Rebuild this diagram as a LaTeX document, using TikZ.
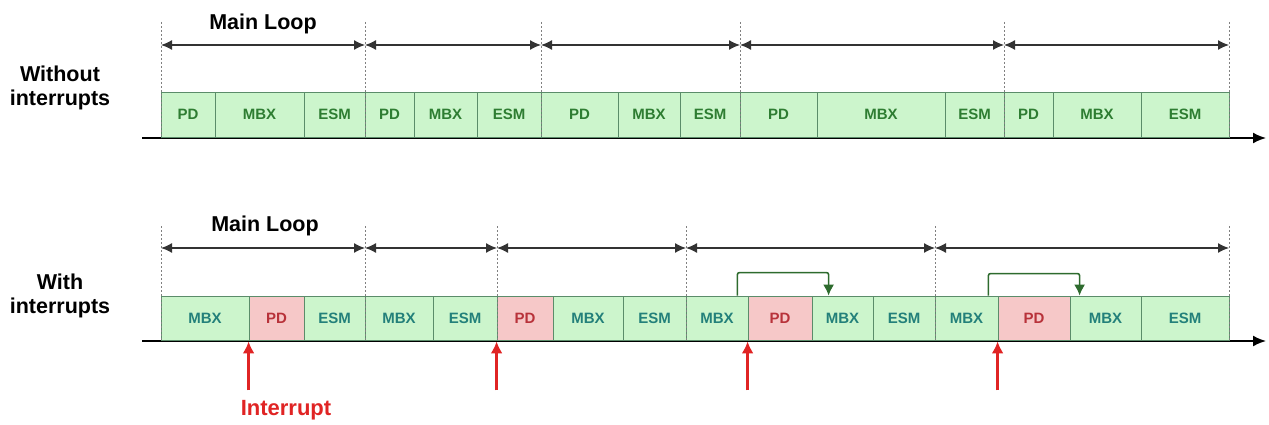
\documentclass[tikz,border=0pt]{standalone}
\usepackage{fontspec}
\setmainfont{Liberation Sans}
\usetikzlibrary{arrows.meta}
\definecolor{boxg}{HTML}{CCF5CC}
\definecolor{boxr}{HTML}{F6C8C8}
\definecolor{edge}{HTML}{5B8C6A}
\definecolor{txtg}{HTML}{2E7D32}
\definecolor{txtt}{HTML}{23807A}
\definecolor{txtr}{HTML}{B8323A}
\definecolor{irqred}{HTML}{E02424}
\definecolor{jmpgreen}{HTML}{2E6B2E}
\tikzset{
  slot/.style={draw=edge, line width=0.8pt, inner sep=0pt, font=\fontsize{15}{16}\selectfont\bfseries},
  divider/.style={draw=gray, line width=0.7pt, dash pattern=on 2pt off 2pt},
  span/.style={draw=black!80, line width=1.3pt, {Latex[length=11pt,width=10pt]}-{Latex[length=11pt,width=10pt]}},
  timeaxis/.style={draw=black, line width=1.8pt, -{Latex[length=13pt,width=11pt]}},
  irq/.style={draw=irqred, line width=3pt, -{Latex[length=12pt,width=12pt]}},
  jump/.style={draw=jmpgreen, line width=1.6pt, rounded corners=2pt, -{Latex[length=11pt,width=11pt]}},
  title/.style={font=\fontsize{21.5}{24}\selectfont\bfseries, align=center}
}

\begin{document}
\begin{tikzpicture}[line cap=butt,line join=miter,x=1pt,y=-1pt]
  \useasboundingbox (0,0) rectangle (1269,425);

  % time axes
  \coordinate (ta0) at (142,138);
  \coordinate (ta1) at (1266,138);
  \coordinate (ba0) at (142,341);
  \coordinate (ba1) at (1266,341);
  \draw[timeaxis] (ta0) -- (ta1);
  \draw[timeaxis] (ba0) -- (ba1);

  % row without interrupts
  \node[title] (woirq) at (60,88) {Without\\interrupts};
  \foreach \a/\b/\t [count=\i] in {161/215/PD, 215/304/MBX, 304/365/ESM,
      365/414/PD, 414/477/MBX, 477/541/ESM, 541/618/PD, 618/680/MBX, 680/740/ESM,
      740/817/PD, 817/945/MBX, 945/1004/ESM, 1004/1053/PD, 1053/1141/MBX, 1141/1229/ESM}
    \node[slot, fill=boxg, text=txtg, minimum width={(\b-\a)*1pt}, minimum height=45pt]
      (p\i) at ({(\a+\b)/2},114.5) {\t};
  \foreach \x [count=\i] in {161,365,541,740,1004,1229} {
    \coordinate (tu\i) at (\x,22);
    \coordinate (tl\i) at (\x,138);
    \coordinate (ts\i) at (\x,45);
    \draw[divider] (tu\i) -- (tl\i);
  }
  \foreach \i [evaluate=\i as \j using int(\i+1)] in {1,...,5}
    \draw[span] (ts\i) -- (ts\j);
  \node[title] (toploop) at (263,24) {Main Loop};

  % row with interrupts
  \node[title] (wirq) at (60,296) {With\\interrupts};
  \foreach \a/\b/\t/\f/\c [count=\i] in {161/249/MBX/g/t, 249/304/PD/r/r, 304/365/ESM/g/t,
      365/433/MBX/g/t, 433/497/ESM/g/t, 497/553/PD/r/r, 553/623/MBX/g/t, 623/686/ESM/g/t,
      686/748/MBX/g/t, 748/812/PD/r/r, 812/873/MBX/g/t, 873/935/ESM/g/t,
      935/998/MBX/g/t, 998/1070/PD/r/r, 1070/1141/MBX/g/t, 1141/1229/ESM/g/t}
    \node[slot, fill=box\f, text=txt\c, minimum width={(\b-\a)*1pt}, minimum height=44pt]
      (q\i) at ({(\a+\b)/2},318) {\t};
  \foreach \x [count=\i] in {161,365,497,686,935,1229} {
    \coordinate (bu\i) at (\x,226);
    \coordinate (bl\i) at (\x,341);
    \coordinate (bs\i) at (\x,248);
    \draw[divider] (bu\i) -- (bl\i);
  }
  \foreach \i [evaluate=\i as \j using int(\i+1)] in {1,...,5}
    \draw[span] (bs\i) -- (bs\j);
  \node[title] (botloop) at (265,226) {Main Loop};

  % interrupts hit at the start of each PD slot
  \foreach \k in {2,6,10,14} {
    \coordinate (src\k) at ([yshift=-50pt]q\k.south west);
    \draw[irq] (src\k) -- ([yshift=-1pt]q\k.south west);
  }
  \node[title, text=irqred, font=\fontsize{22}{24}\selectfont\bfseries] (irqlbl) at (286,410) {Interrupt};

  % interrupted MBX resumes after PD
  \draw[jump] ([xshift=-11pt]q9.north east) -- ++(0,-23) -| ([xshift=17pt]q11.north west);
  \draw[jump] ([xshift=-10pt]q13.north east) -- ++(0,-22) -| ([xshift=10pt]q15.north west);
\end{tikzpicture}
\end{document}
